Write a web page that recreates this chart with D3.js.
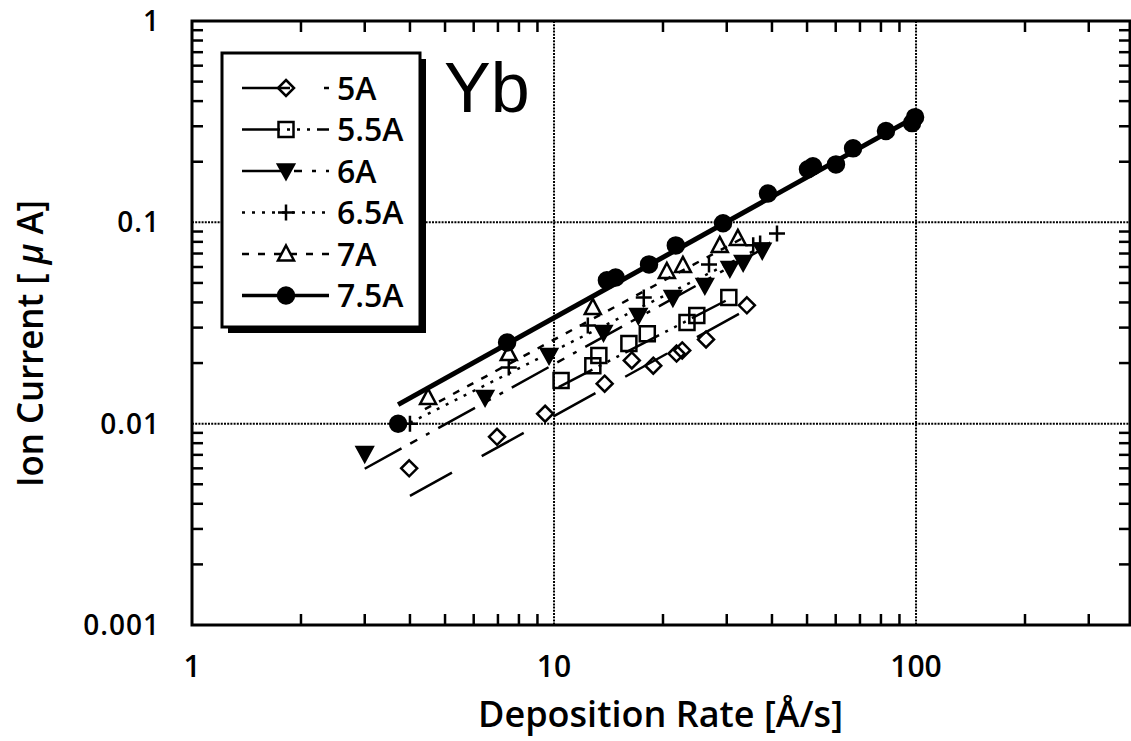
<!DOCTYPE html>
<html>
<head>
<meta charset="utf-8">
<script src="https://cdn.jsdelivr.net/npm/d3@7"></script>
<style>
  html, body { margin: 0; padding: 0; background: #fff; }
  #chart svg { display: block; }
</style>
</head>
<body>
<div id="chart"></div>
<script>
;(function() {
  "use strict";

  // Data
  // ---------------------------------------------------------------------------
  var seriesNames = ["5A", "5.5A", "6A", "6.5A", "7A", "7.5A"];

  var rate5 = [3.98, 6.96, 9.45, 13.8, 16.4, 18.8, 21.8, 22.6, 26.3, 34.1];
  var cur5  = [0.0060, 0.0086, 0.0112, 0.0158, 0.0206, 0.0194, 0.0223, 0.0231, 0.0262, 0.0387];

  var rate55 = [10.46, 12.8, 13.3, 16.1, 18.1, 23.3, 24.8, 30.4];
  var cur55  = [0.0164, 0.0194, 0.0218, 0.025, 0.028, 0.0318, 0.0345, 0.0423];

  var rate6 = [3.0, 6.45, 9.69, 13.7, 17.1, 21.3, 26.1, 30.6, 33.3, 37.6];
  var cur6  = [0.0071, 0.0135, 0.0218, 0.0284, 0.0345, 0.0423, 0.0486, 0.059, 0.0632, 0.0726];

  var rate65 = [4.0, 7.5, 12.4, 17.7, 26.8, 35.5, 37.1, 41.3];
  var cur65  = [0.0100, 0.019, 0.0307, 0.0423, 0.0618, 0.077, 0.0786, 0.088];

  var rate7 = [4.49, 7.5, 12.8, 20.5, 22.7, 28.7, 32.2];
  var cur7  = [0.0135, 0.0223, 0.0378, 0.057, 0.0611, 0.0768, 0.0832];

  var rate75 = [3.71, 7.42, 14.0, 14.8, 18.3, 21.7, 29.3, 39.0, 50.3, 51.9, 60.1, 67, 82.6, 97.5, 99.4];
  var cur75  = [0.010, 0.0253, 0.0515, 0.0532, 0.0618, 0.0768, 0.099, 0.139, 0.1836, 0.19, 0.194, 0.233, 0.284, 0.311, 0.333];

  // fit lines: [rate start, current start, rate end, current end]
  var fit5  = [4.0, 0.00438, 33.7, 0.0365];
  var fit55 = [10.3, 0.0152, 30.6, 0.0418];
  var fit6  = [3.0, 0.00597, 37.1, 0.0726];
  var fit65 = [4.0, 0.0101, 40, 0.080];
  var fit7  = [4.4, 0.0118, 33, 0.083];
  var fit75 = [3.71, 0.01244, 99.4, 0.333];

  var xTickValues = [1, 10, 100];
  var xTickLabels = ["1", "10", "100"];
  var yTickValues = [1, 0.1, 0.01, 0.001];
  var yTickLabels = ["1", "0.1", "0.01", "0.001"];

  var series = [
    { name: seriesNames[0], x: rate5,  y: cur5,  fit: fit5,  marker: "diamond", dash: "48,34", width: 2.5 },
    { name: seriesNames[1], x: rate55, y: cur55, fit: fit55, marker: "square",  dash: "38,7,3,7,3,7,3,7", width: 2.5 },
    { name: seriesNames[2], x: rate6,  y: cur6,  fit: fit6,  marker: "tridown", dash: "42,10,8,10,4,10", width: 2.5 },
    { name: seriesNames[3], x: rate65, y: cur65, fit: fit65, marker: "plus",    dash: "3,7", width: 2.5 },
    { name: seriesNames[4], x: rate7,  y: cur7,  fit: fit7,  marker: "triup",   dash: "7,9", width: 2.5 },
    { name: seriesNames[5], x: rate75, y: cur75, fit: fit75, marker: "circle",  dash: null, width: 5 }
  ];

  // Dimensions
  // ---------------------------------------------------------------------------
  var W = 1131, H = 741;
  var plot = { left: 192, right: 1130, top: 21, bottom: 625 };

  var x = d3.scaleLog().domain([1, 390]).range([plot.left, plot.right]);
  var y = d3.scaleLog().domain([0.001, 1]).range([plot.bottom, plot.top]);

  var font = "Open Sans, sans-serif";

  var svg = d3.select("#chart").append("svg")
    .attr("width", W)
    .attr("height", H);

  // Marker shapes
  // ---------------------------------------------------------------------------
  function markerPath(type) {
    switch (type) {
      case "diamond": return "M0,-8L8,0L0,8L-8,0Z";
      case "square":  return "M-7.5,-7.5H7.5V7.5H-7.5Z";
      case "tridown": return "M-8,-6.5H8L0,8Z";
      case "triup":   return "M0,-8.5L8,6.5H-8Z";
      case "plus":    return "M-8,0H8M0,-8V8";
      case "circle":  return "M8,0A8,8 0 1,1 -8,0A8,8 0 1,1 8,0Z";
    }
  }

  function drawMarker(sel, type) {
    sel.append("path")
      .attr("d", markerPath(type))
      .attr("fill", (type === "circle" || type === "tridown") ? "#000" : "none")
      .attr("stroke", "#000")
      .attr("stroke-width", 2.5)
      .attr("stroke-linejoin", "miter");
  }

  // Grid
  // ---------------------------------------------------------------------------
  var grid = svg.append("g").attr("class", "grid");

  grid.selectAll("line.gx")
    .data([10, 100])
    .enter().append("line")
      .attr("x1", function(d) { return x(d); })
      .attr("x2", function(d) { return x(d); })
      .attr("y1", plot.top)
      .attr("y2", plot.bottom)
      .attr("stroke", "#000")
      .attr("stroke-width", 2)
      .attr("stroke-dasharray", "2,1.2");

  grid.selectAll("line.gy")
    .data([0.1, 0.01])
    .enter().append("line")
      .attr("y1", function(d) { return y(d); })
      .attr("y2", function(d) { return y(d); })
      .attr("x1", plot.left)
      .attr("x2", plot.right)
      .attr("stroke", "#000")
      .attr("stroke-width", 2)
      .attr("stroke-dasharray", "2,1.2");

  // Minor ticks, inward on all four sides
  // ---------------------------------------------------------------------------
  var minorX = [], minorY = [];
  [1, 10, 100].forEach(function(p) {
    for (var k = 2; k <= 9; k++) if (p * k <= 390) minorX.push(p * k);
  });
  [0.001, 0.01, 0.1].forEach(function(p) {
    for (var k = 2; k <= 9; k++) minorY.push(p * k);
  });

  var tickLen = 11;

  ["top", "bottom"].forEach(function(side) {
    var edge = plot[side];
    var dir = (side === "top") ? 1 : -1;
    svg.append("g").selectAll("line")
      .data(minorX)
      .enter().append("line")
        .attr("x1", function(d) { return x(d); })
        .attr("x2", function(d) { return x(d); })
        .attr("y1", edge)
        .attr("y2", edge + dir * tickLen)
        .attr("stroke", "#000")
        .attr("stroke-width", 2.5);
  });

  ["left", "right"].forEach(function(side) {
    var edge = plot[side];
    var dir = (side === "left") ? 1 : -1;
    svg.append("g").selectAll("line")
      .data(minorY)
      .enter().append("line")
        .attr("y1", function(d) { return y(d); })
        .attr("y2", function(d) { return y(d); })
        .attr("x1", edge)
        .attr("x2", edge + dir * tickLen)
        .attr("stroke", "#000")
        .attr("stroke-width", 2.5);
  });

  svg.append("rect")
    .attr("x", plot.left)
    .attr("y", plot.top)
    .attr("width", plot.right - plot.left)
    .attr("height", plot.bottom - plot.top)
    .attr("fill", "none")
    .attr("stroke", "#000")
    .attr("stroke-width", 3);

  // Tick labels
  svg.append("g").selectAll("text")
    .data(xTickValues)
    .enter().append("text")
      .attr("x", function(d) { return x(d); })
      .attr("y", 677)
      .attr("text-anchor", "middle")
      .attr("font-family", font)
      .attr("font-weight", 600)
      .attr("font-size", 30)
      .text(function(d, i) { return xTickLabels[i]; });

  svg.append("g").selectAll("text")
    .data(yTickValues)
    .enter().append("text")
      .attr("x", 160)
      .attr("y", function(d) { return y(d) + 10; })
      .attr("text-anchor", "end")
      .attr("font-family", font)
      .attr("font-weight", 600)
      .attr("font-size", 28)
      .attr("letter-spacing", 1)
      .text(function(d, i) { return yTickLabels[i]; });

  // Axis titles
  svg.append("text")
    .attr("x", 478)
    .attr("y", 727)
    .attr("font-family", font)
    .attr("font-weight", 600)
    .attr("font-size", 36)
    .attr("textLength", 365)
    .attr("lengthAdjust", "spacingAndGlyphs")
    .text("Deposition Rate [Å/s]");

  var yTitle = svg.append("text")
    .attr("transform", "translate(43,487) rotate(-90)")
    .attr("font-family", font)
    .attr("font-weight", 600)
    .attr("font-size", 36)
    .attr("textLength", 287)
    .attr("lengthAdjust", "spacingAndGlyphs");
  yTitle.append("tspan").text("Ion Current [ ");
  yTitle.append("tspan").attr("font-style", "italic").text("μ");
  yTitle.append("tspan").text(" A]");

  // Fit lines and points
  // ---------------------------------------------------------------------------
  var data = svg.append("g").attr("class", "series");

  series.forEach(function(s) {
    data.append("line")
      .attr("x1", x(s.fit[0]))
      .attr("y1", y(s.fit[1]))
      .attr("x2", x(s.fit[2]))
      .attr("y2", y(s.fit[3]))
      .attr("stroke", "#000")
      .attr("stroke-width", s.width)
      .attr("stroke-dasharray", s.dash);
  });

  series.forEach(function(s) {
    s.x.forEach(function(v, i) {
      var g = data.append("g")
        .attr("transform", "translate(" + x(v) + "," + y(s.y[i]) + ")");
      drawMarker(g, s.marker);
    });
  });

  // Legend
  // ---------------------------------------------------------------------------
  var legend = svg.append("g").attr("class", "legend");
  var box = { x: 222, y: 53, w: 198, h: 274, shadow: 6 };

  legend.append("rect")
    .attr("x", box.x + box.shadow)
    .attr("y", box.y + box.shadow)
    .attr("width", box.w)
    .attr("height", box.h)
    .attr("fill", "#000");

  legend.append("rect")
    .attr("x", box.x)
    .attr("y", box.y)
    .attr("width", box.w)
    .attr("height", box.h)
    .attr("fill", "#fff")
    .attr("stroke", "#000")
    .attr("stroke-width", 3);

  var rows = legend.selectAll("g.row")
    .data(series)
    .enter().append("g")
      .attr("class", "row")
      .attr("transform", function(d, i) { return "translate(0," + (88 + 41.5 * i) + ")"; });

  rows.append("line")
    .attr("x1", 242)
    .attr("x2", 329)
    .attr("stroke", "#000")
    .attr("stroke-width", function(d) { return d.width > 3 ? 3.5 : 2.5; })
    .attr("stroke-dasharray", function(d) { return d.dash; });

  rows.each(function(d) {
    var g = d3.select(this).append("g").attr("transform", "translate(286,0)");
    drawMarker(g, d.marker);
  });

  rows.append("text")
    .attr("x", 337)
    .attr("dy", "0.36em")
    .attr("font-family", font)
    .attr("font-weight", 600)
    .attr("font-size", 32)
    .text(function(d) { return d.name; });

  // Element label
  svg.append("text")
    .attr("x", 444)
    .attr("y", 112)
    .attr("font-family", "Liberation Sans, Arial, sans-serif")
    .attr("font-size", 70)
    .text("Yb");
})();
</script>
</body>
</html>
